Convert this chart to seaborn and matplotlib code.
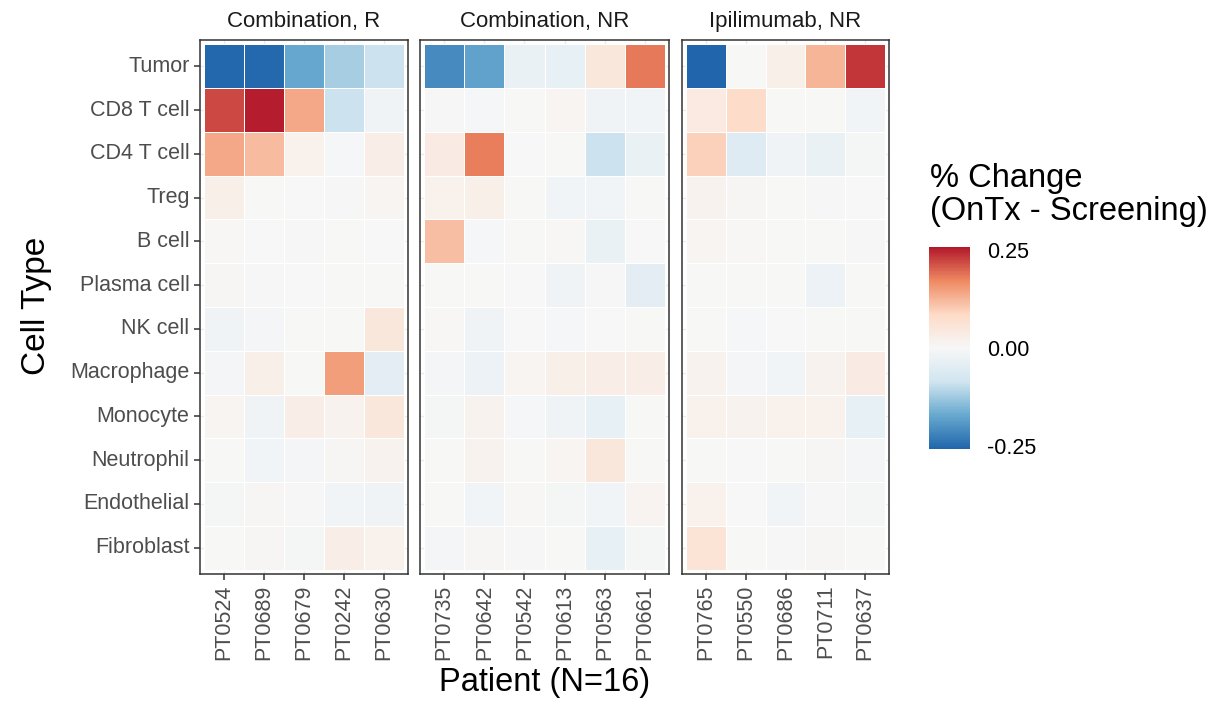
import numpy as np
import pandas as pd
import matplotlib
matplotlib.use("Agg")
import matplotlib.pyplot as plt
from matplotlib.colors import LinearSegmentedColormap
import seaborn as sns

# ---- data -------------------------------------------------------------
cell_types = ["Tumor", "CD8 T cell", "CD4 T cell", "Treg", "B cell",
              "Plasma cell", "NK cell", "Macrophage", "Monocyte",
              "Neutrophil", "Endothelial", "Fibroblast"]

groups = ["Combination, R", "Combination, NR", "Ipilimumab, NR"]

patients_comb_r = ["PT0524", "PT0689", "PT0679", "PT0242", "PT0630"]
patients_comb_nr = ["PT0735", "PT0642", "PT0542", "PT0613", "PT0563", "PT0661"]
patients_ipi_nr = ["PT0765", "PT0550", "PT0686", "PT0711", "PT0637"]

# rows follow cell_types, columns follow the patient lists
change_comb_r = [
    [-0.255, -0.252, -0.175, -0.120, -0.090],
    [0.220, 0.252, 0.140, -0.090, -0.020],
    [0.140, 0.120, 0.020, -0.005, 0.030],
    [0.025, 0.000, -0.002, -0.003, 0.010],
    [0.003, -0.002, -0.003, 0.000, -0.001],
    [0.005, -0.003, -0.002, 0.000, 0.000],
    [-0.020, -0.010, 0.000, 0.000, 0.050],
    [-0.010, 0.025, 0.000, 0.150, -0.045],
    [0.010, -0.020, 0.030, 0.015, 0.050],
    [0.000, -0.015, -0.010, 0.008, 0.015],
    [-0.008, 0.007, -0.003, -0.015, -0.020],
    [0.002, 0.005, -0.007, 0.030, 0.020],
]

change_comb_nr = [
    [-0.210, -0.180, -0.030, -0.035, 0.050, 0.185],
    [-0.003, -0.005, 0.000, 0.010, -0.020, -0.015],
    [0.035, 0.180, -0.002, 0.000, -0.090, -0.030],
    [0.020, 0.025, 0.000, -0.015, -0.015, 0.000],
    [0.115, -0.005, 0.002, 0.003, -0.030, -0.002],
    [0.000, 0.000, -0.002, -0.020, -0.003, -0.045],
    [0.003, -0.020, -0.002, -0.005, -0.002, 0.000],
    [-0.010, -0.025, 0.010, 0.025, 0.030, 0.030],
    [-0.008, 0.015, -0.005, -0.018, -0.035, 0.000],
    [0.000, 0.015, 0.000, 0.010, 0.050, 0.000],
    [0.000, -0.015, 0.003, -0.008, -0.015, 0.012],
    [-0.010, 0.005, -0.003, 0.000, -0.035, -0.008],
]

change_ipi_nr = [
    [-0.258, 0.000, 0.025, 0.125, 0.235],
    [0.040, 0.080, 0.000, 0.000, -0.015],
    [0.095, -0.055, -0.020, -0.030, -0.008],
    [0.015, 0.005, 0.000, -0.003, -0.002],
    [0.010, 0.003, 0.000, 0.000, -0.003],
    [0.000, 0.000, 0.000, -0.025, 0.000],
    [0.000, -0.005, -0.002, 0.000, 0.000],
    [0.015, -0.010, -0.015, 0.015, 0.035],
    [0.020, 0.015, 0.020, 0.020, -0.035],
    [0.000, -0.002, 0.000, 0.005, -0.010],
    [0.020, -0.002, -0.015, -0.003, -0.008],
    [0.060, 0.000, -0.003, 0.008, 0.000],
]

group_patients = [patients_comb_r, patients_comb_nr, patients_ipi_nr]
group_values = [change_comb_r, change_comb_nr, change_ipi_nr]

records = []
for grp, pats, vals in zip(groups, group_patients, group_values):
    for i, ct in enumerate(cell_types):
        for j, pt in enumerate(pats):
            records.append({"group": grp, "patient": pt, "cell_type": ct,
                            "change": vals[i][j]})
df = pd.DataFrame(records)

# ---- style ------------------------------------------------------------
sns.set_style("white")
plt.rcParams["font.family"] = ["Liberation Sans", "DejaVu Sans"]

LIMIT = 0.258
cmap = LinearSegmentedColormap.from_list(
    "rdbu_div",
    ["#2166AC", "#67A9CF", "#D1E5F0", "#F7F7F7", "#FDDBC7", "#EF8A62", "#B2182B"],
)

W, H = 1216, 702
fig = plt.figure(figsize=(W / 100, H / 100), dpi=100)
fig.patch.set_facecolor("white")


def px_box(left, right, top, bottom):
    return [left / W, 1 - bottom / H, (right - left) / W, (bottom - top) / H]


panel_boxes = [(200, 408), (420, 669), (682, 889)]
PANEL_TOP, PANEL_BOTTOM = 40, 574

mesh = None
for k, (grp, pats) in enumerate(zip(groups, group_patients)):
    left, right = panel_boxes[k]
    ax = fig.add_axes(px_box(left, right, PANEL_TOP, PANEL_BOTTOM))
    sub = df[df["group"] == grp].pivot(index="cell_type", columns="patient",
                                       values="change")
    sub = sub.loc[cell_types, pats]
    sns.heatmap(sub, ax=ax, cmap=cmap, vmin=-LIMIT, vmax=LIMIT, cbar=False,
                linewidths=0.6, linecolor="white")
    mesh = ax.collections[0]
    n = len(pats)
    ax.set_xlim(-0.1, n + 0.1)
    ax.set_ylim(len(cell_types) + 0.1, -0.1)
    ax.set_facecolor("white")
    ax.set_axisbelow(True)
    ax.grid(True, color="#EBEBEB", linewidth=1.0)
    for sp in ax.spines.values():
        sp.set_visible(True)
        sp.set_color("#333333")
        sp.set_linewidth(1.1)
    ax.set_xticks(np.arange(n) + 0.5)
    ax.set_xticklabels(pats, rotation=90, fontsize=15.5, color="#4D4D4D")
    ax.set_yticks(np.arange(len(cell_types)) + 0.5)
    if k == 0:
        ax.set_yticklabels(cell_types, fontsize=15.5, color="#4D4D4D")
        ax.tick_params(axis="y", left=True, length=4.5, width=1.1,
                       color="#333333", pad=3)
    else:
        ax.set_yticklabels([])
        ax.tick_params(axis="y", left=False, length=0)
    ax.tick_params(axis="x", bottom=True, length=4.5, width=1.1,
                   color="#333333", pad=3)
    ax.set_xlabel("")
    ax.set_ylabel("")
    ax.set_title(grp, fontsize=16, color="#1A1A1A", pad=9)

fig.text(545 / W, 1 - 683 / H, "Patient (N=16)", fontsize=23.5,
         ha="center", va="center", color="black")
fig.text(37 / W, 1 - 306 / H, "Cell Type",
         fontsize=24, rotation=90, ha="center", va="center", color="black")

# ---- colour bar -------------------------------------------------------
cax = fig.add_axes(px_box(929, 970, 247, 449))
cbar = fig.colorbar(mesh, cax=cax, orientation="vertical")
cbar.outline.set_visible(False)
cbar.set_ticks([-0.25, 0.0, 0.25])
cbar.set_ticklabels(["-0.25", "0.00", "0.25"])
cax.yaxis.set_ticks_position("both")
cax.tick_params(axis="y", direction="in", length=6, width=1.0, color="white",
                labelsize=15.5, labelcolor="black", pad=12,
                left=True, right=True, labelleft=False, labelright=True)
fig.text(930 / W, 1 - 163 / H, "% Change\n(OnTx - Screening)", fontsize=23.5,
         ha="left", va="top", color="black", linespacing=1.1)

fig.savefig("out.png", dpi=100, facecolor="white")
